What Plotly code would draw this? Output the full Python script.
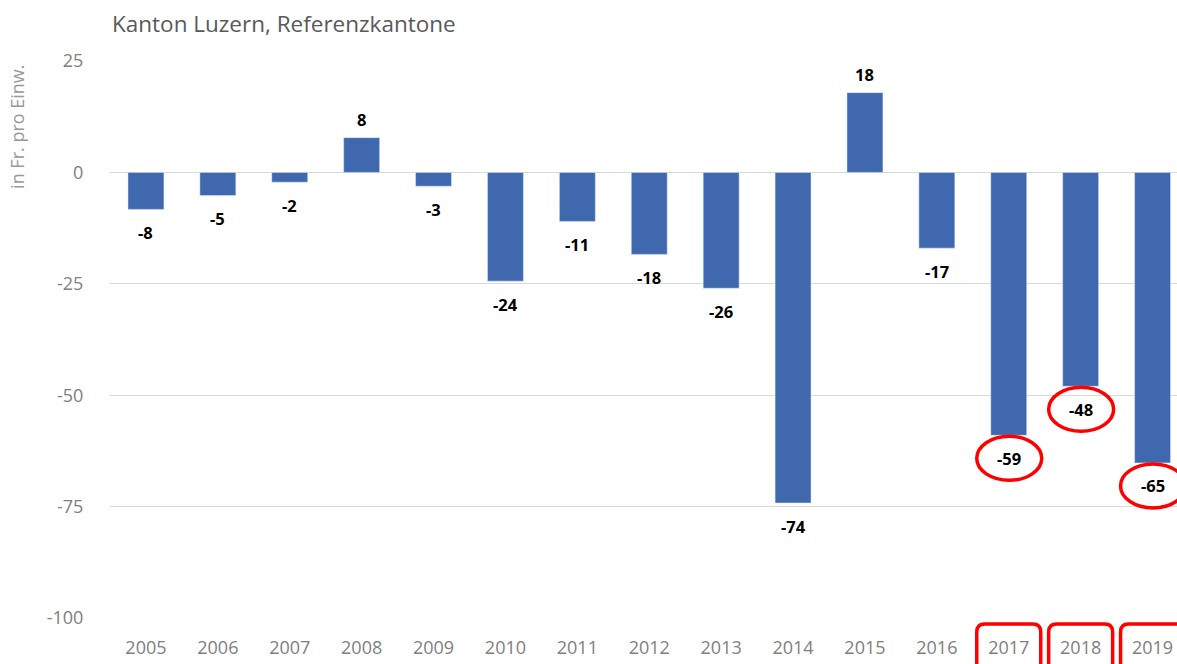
import plotly.graph_objects as go

years = ["2005", "2006", "2007", "2008", "2009", "2010", "2011", "2012",
         "2013", "2014", "2015", "2016", "2017", "2018", "2019"]
values = [-8.3, -5.2, -2.2, 7.8, -3.1, -24.4, -11.0, -18.4,
          -26.0, -74.2, 17.9, -17.0, -59.0, -48.0, -65.2]
labels = ["-8", "-5", "-2", "8", "-3", "-24", "-11", "-18",
          "-26", "-74", "18", "-17", "-59", "-48", "-65"]
highlight_years = ["2017", "2018", "2019"]
y_ticks = [25, 0, -25, -50, -75, -100]
y_ticktext = ["25", "0", "-25", "-50", "-75", "-100"]

title_text = "Kanton Luzern, Referenzkantone"
y_title = "in Fr. pro Einw."

BAR = "#4068AF"
RED = "#FF0000"
GRID = "#D9D9D9"
TICK = "#808080"
FONT = "Open Sans"

fig = go.Figure(go.Bar(
    x=list(range(len(years))), y=values, marker_color=BAR, width=0.5,
    hoverinfo="x+y",
))

annotations = []
for i, (v, lab) in enumerate(zip(values, labels)):
    annotations.append(dict(
        x=i, y=v, xref="x", yref="y", text=f"<b>{lab}</b>", showarrow=False,
        yshift=18 if v >= 0 else -23, yanchor="middle",
        font=dict(family=FONT, size=16.5, color="#000000"),
    ))

annotations.append(dict(
    text=y_title, textangle=-90, xref="paper", yref="paper",
    x=-0.087, y=0.882, xanchor="center", yanchor="middle", showarrow=False,
    font=dict(family=FONT, size=18, color="#999999"),
))

shapes = []
r = 8
for yr in highlight_years:
    i = years.index(yr)
    v = values[i]
    # ellipse around the data label
    shapes.append(dict(
        type="circle", xref="x", yref="y", xsizemode="pixel", ysizemode="pixel",
        xanchor=i, yanchor=v, x0=-32, x1=33, y0=-23 - 22, y1=-23 + 22,
        line=dict(color=RED, width=3.5), layer="above",
    ))
    # rounded box around the tick label
    x0, x1, yt, yb = -32, 32, -6, -70
    path = (f"M {x0+r} {yt} L {x1-r} {yt} Q {x1} {yt} {x1} {yt-r} "
            f"L {x1} {yb} L {x0} {yb} L {x0} {yt-r} Q {x0} {yt} {x0+r} {yt} Z")
    shapes.append(dict(
        type="path", xref="x", yref="y domain", xsizemode="pixel", ysizemode="pixel",
        xanchor=i, yanchor=0, path=path,
        line=dict(color=RED, width=3.5), layer="above",
    ))

fig.update_layout(
    width=1177, height=664,
    margin=dict(l=110, r=0, t=61, b=46),
    paper_bgcolor="white", plot_bgcolor="white",
    showlegend=False,
    title=dict(text=title_text, x=112 / 1177, xanchor="left", xref="container",
               y=1 - 24 / 664, yanchor="middle", yref="container",
               font=dict(family=FONT, size=22.5, color="#595959")),
    xaxis=dict(
        range=[-0.5, 14.34], tickmode="array",
        tickvals=list(range(len(years))), ticktext=years,
        showgrid=False, zeroline=False, showline=False,
        ticks="outside", ticklen=13, tickcolor="rgba(0,0,0,0)",
        tickfont=dict(family=FONT, size=18, color=TICK),
    ),
    yaxis=dict(
        range=[-100, 25], tickmode="array", tickvals=y_ticks, ticktext=y_ticktext,
        showgrid=True, gridcolor=GRID, gridwidth=1.3,
        zeroline=True, zerolinecolor=GRID, zerolinewidth=1.3,
        showline=False,
        ticks="outside", ticklen=22, tickcolor="rgba(0,0,0,0)",
        tickfont=dict(family=FONT, size=18, color=TICK),
    ),
    annotations=annotations,
    shapes=shapes,
)

fig.write_html(
    "out.html",
    config={"displayModeBar": False},
    post_script="document.body.style.margin='0';document.body.style.overflow='hidden';",
)
